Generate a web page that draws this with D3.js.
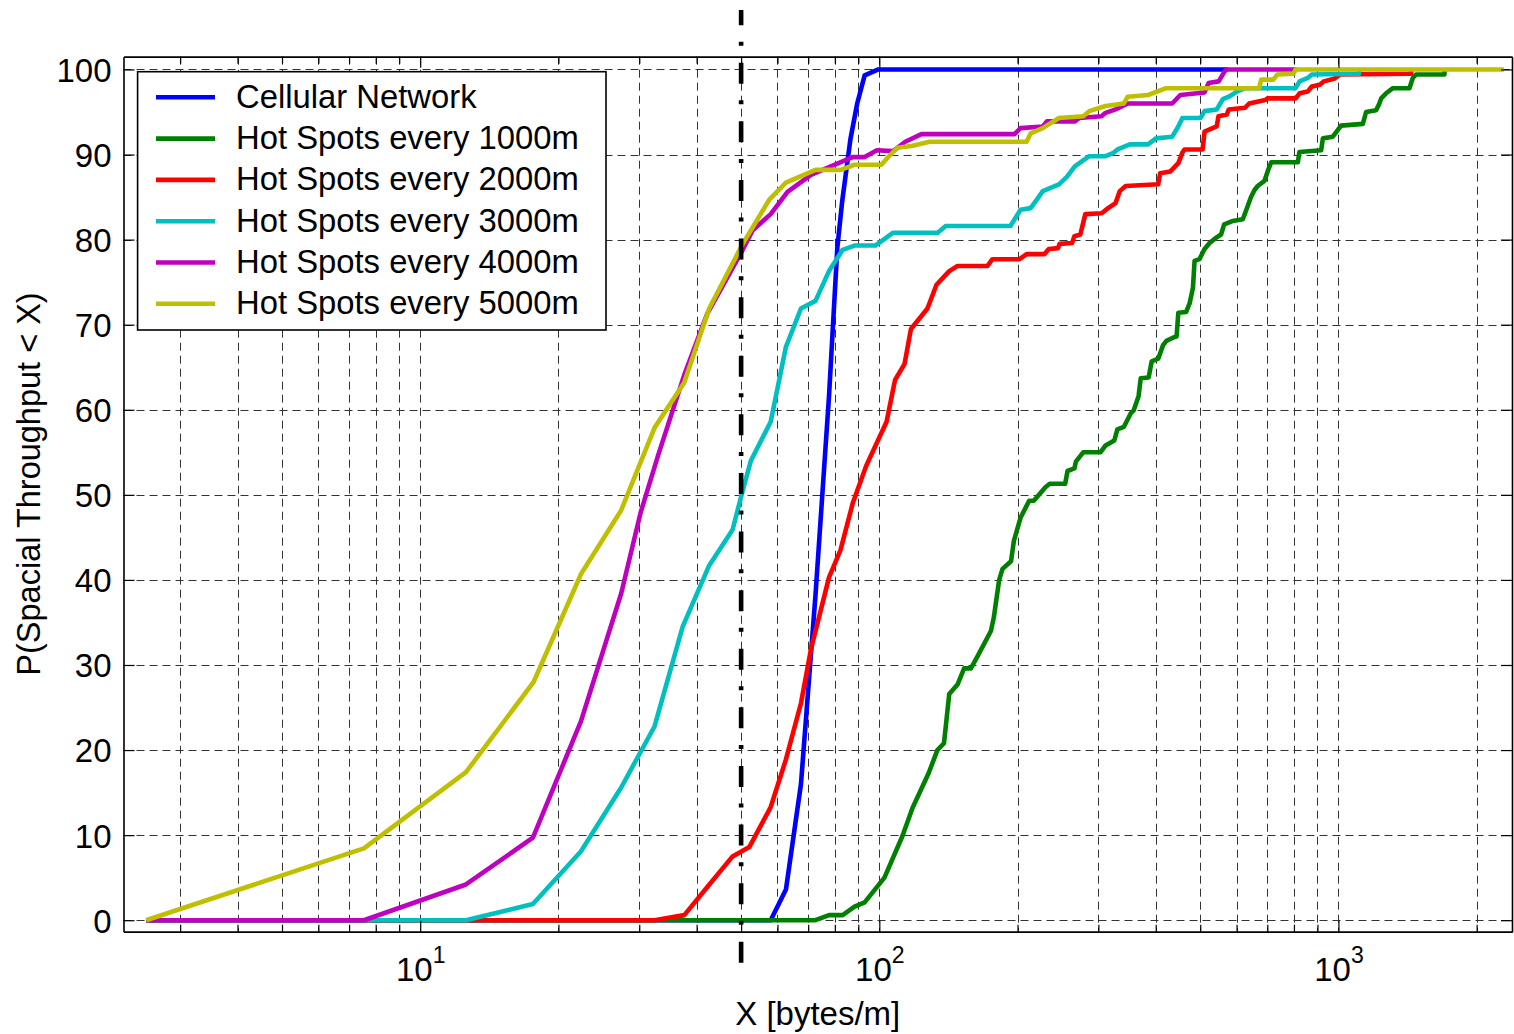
<!DOCTYPE html>
<html>
<head>
<meta charset="utf-8">
<script src="https://cdn.jsdelivr.net/npm/d3@7"></script>
<style>
  body { margin: 0; background: #fff; }
  svg { display: block; font-family: "Liberation Sans", Arial, Helvetica, sans-serif; }
</style>
</head>
<body>
<div id="chart"></div>
<script>
// Series data: [x (bytes/m), P(%)]
const cellular = [[2.53, 0], [58, 0], [62.6, 3.6], [67.5, 16], [72.6, 38.2], [77.7, 61.6], [81, 79],
    [83, 84.5], [86.5, 91.8], [89.5, 96], [92.9, 99.3], [99.5, 100], [575, 100]];

const hot1000 = [[2.53, 0], [72.6, 0], [77.7, 0.6], [83.2, 0.6], [88.3, 1.6], [92.9, 2.1], [102.6, 5.0],
    [112.3, 9.9], [118.1, 13.2], [128.1, 17.3], [133.8, 20.0], [138.3, 20.8], [142, 26.6], [148, 27.7],
    [153, 29.6], [158.3, 29.6], [163.6, 31.0], [175, 34.0], [177.6, 35.6], [182.4, 40.0], [185.5, 41.3],
    [193.6, 42.2], [196.4, 44.6], [203, 47.3], [212, 49.3], [217, 49.3], [230, 50.9], [235, 51.3],
    [254, 51.3], [257, 52.8], [266, 53.1], [268, 53.9], [278, 55.0], [303, 55.0], [311, 55.8],
    [325, 56.4], [330, 57.7], [341, 58.0], [353, 59.6], [358, 59.9], [367, 61.6], [371, 63.7],
    [386, 63.8], [392, 65.7], [405, 66.0], [415, 67.6], [422, 68.1], [437, 68.5], [444, 68.6],
    [448, 71.4], [466, 71.5], [474, 72.5], [482, 74.3], [486, 77.5], [498, 77.7], [511, 78.9],
    [524, 79.6], [541, 80.2], [555, 80.6], [564, 81.8], [589, 82.2], [619, 82.4], [629, 83.4],
    [645, 85.0], [656, 85.8], [667, 86.3], [690, 86.9], [702, 88.1], [714, 89.1], [816, 89.1],
    [822, 90.3], [917, 90.5], [925, 91.9], [972, 92.1], [988, 92.6], [1013, 93.4], [1130, 93.6],
    [1149, 95.0], [1208, 95.2], [1228, 96.0], [1239, 96.6], [1270, 97.2], [1314, 97.8], [1428, 97.8],
    [1452, 99.0], [1476, 99.4], [1702, 99.4], [1702, 100]];

const hot2000 = [[2.53, 0], [32.4, 0], [37.6, 0.6], [42.2, 3.9], [47.9, 7.5], [52.1, 8.6], [58.0, 13.3],
    [62.6, 18.9], [67.5, 25.5], [71.0, 31.9], [77.7, 40.3], [82.3, 43.5], [87.5, 49.0], [93.6, 53.4],
    [103.7, 58.6], [108.2, 63.5], [113.5, 65.4], [117.2, 69.5], [127.3, 71.9], [133.2, 74.7],
    [142, 76.3], [148, 76.9], [172, 76.9], [176.3, 77.7], [202, 77.7], [209.3, 78.3], [229, 78.3],
    [234, 78.9], [245, 79.0], [247, 79.5], [263, 79.6], [266, 80.4], [274, 80.6], [281, 83.0],
    [305, 83.1], [315, 83.7], [327, 84.3], [334, 85.7], [344, 86.3], [405, 86.5], [409, 87.8],
    [430, 88.0], [448, 89.0], [457, 90.2], [462, 90.6], [506, 90.6], [511, 92.7], [532, 93.1],
    [543, 93.3], [548, 94.5], [571, 94.7], [577, 95.3], [626, 95.5], [639, 96.0], [693, 96.4],
    [700, 96.6], [807, 96.6], [823, 97.2], [857, 97.4], [875, 98.0], [911, 98.2], [929, 98.6],
    [978, 98.9], [1008, 99.4], [1440, 99.5], [1440, 100]];

const hot3000 = [[2.53, 0], [12.58, 0], [17.6, 1.9], [22.4, 8.1], [27.4, 15.6], [32.4, 22.8], [37.3, 34.5],
    [42.6, 41.7], [47.9, 45.9], [50.4, 50.5], [52.5, 54.0], [58.0, 58.6], [62.6, 67.4], [67.5, 71.9],
    [72.6, 72.8], [77.7, 76.3], [83.2, 78.8], [88.3, 79.3], [98, 79.3], [107, 80.8], [134, 80.8],
    [139.5, 81.6], [193, 81.6], [203, 83.5], [213.6, 83.7], [220.3, 84.7], [227, 85.7], [246.2, 86.5],
    [256.4, 87.4], [266.5, 88.6], [286.6, 89.8], [311, 89.8], [323.7, 90.2], [330.3, 90.6],
    [351.2, 91.2], [384.8, 91.2], [400.5, 91.9], [434.5, 92.1], [447.9, 93.3], [457.2, 94.3],
    [501, 94.3], [510.9, 95.1], [543, 95.3], [560, 96.5], [577, 96.8], [601, 97.4], [626, 97.8],
    [806.6, 97.8], [823, 98.6], [857.5, 99.0], [874.8, 99.4], [1109, 99.5], [1109, 100]];

const hot4000 = [[2.53, 0], [7.54, 0], [12.58, 4.2], [17.6, 9.7], [22.4, 23.4], [27.4, 38.4], [30.2, 47.9],
    [33.0, 54.7], [37.6, 64.1], [42.2, 71.3], [50.4, 78.8], [53.0, 81.1], [58.0, 83.0], [63.1, 85.6],
    [71.0, 87.6], [78.4, 88.6], [87.5, 89.7], [92.9, 89.7], [98.8, 90.5], [107.2, 90.4], [113.9, 91.5],
    [123.5, 92.4], [197, 92.4], [203, 93.1], [227, 93.3], [231.7, 93.9], [267, 93.9], [272.4, 94.3],
    [304.7, 94.5], [311, 94.9], [327, 95.3], [347.7, 96.0], [434.5, 96.0], [452.4, 97.0],
    [510.9, 97.3], [521.3, 98.4], [548.5, 98.6], [565.5, 99.8], [571.3, 100], [810, 100]];

const hot5000 = [[2.53, 0], [7.54, 8.45], [12.58, 17.4], [17.66, 28.0], [22.4, 40.7], [27.4, 48.2],
    [32.4, 57.9], [37.6, 63.2], [42.6, 71.9], [50.4, 79.5], [57.6, 84.7], [62.6, 86.7], [72.6, 88.2],
    [82.4, 88.2], [88.2, 88.8], [101, 88.8], [105, 89.8], [109.4, 90.8], [117.4, 91.0], [128.7, 91.5],
    [209.4, 91.5], [213.6, 92.5], [227, 93.1], [246.2, 94.3], [278.1, 94.5], [286.6, 95.1],
    [311, 95.7], [340.6, 96.0], [347.7, 96.8], [384.8, 97.0], [421.5, 97.8], [672, 97.8],
    [678.7, 98.8], [721.4, 98.8], [736.5, 99.4], [798.6, 99.5], [806.6, 100], [2292, 100]];

const seriesData = [cellular, hot1000, hot2000, hot3000, hot4000, hot5000];
const seriesNames = ['Cellular Network', 'Hot Spots every 1000m', 'Hot Spots every 2000m',
    'Hot Spots every 3000m', 'Hot Spots every 4000m', 'Hot Spots every 5000m'];
const seriesColors = ['#0000ff', '#008000', '#ff0000', '#00bfbf', '#bf00bf', '#bfbf00'];

// vertical dash-dot marker at 50 bytes/m
const cutoffLine = [[50, -5], [50, 107]];

// ticks
const yTicks = [0, 10, 20, 30, 40, 50, 60, 70, 80, 90, 100];
const xMajor = [10, 100, 1000];
const xMajorExp = ['1', '2', '3'];
const xMinor = [3, 4, 5, 6, 7, 8, 9, 20, 30, 40, 50, 60, 70, 80, 90,
    200, 300, 400, 500, 600, 700, 800, 900, 2000];

const W = 1514, H = 1034;
const plotL = 123.5, plotR = 1512, plotT = 56.7, plotB = 931.7;

const svg = d3.select('#chart').append('svg')
    .attr('width', W).attr('height', H);

const x = d3.scaleLog().domain([2.258, 2388]).range([plotL, plotR]);
const y = d3.scaleLinear().domain([-1.35, 101.5]).range([plotB, plotT]);

// grid
const grid = svg.append('g')
    .attr('stroke', '#333').attr('stroke-width', 1).attr('stroke-dasharray', '8,5');
grid.selectAll('line.h').data(yTicks).enter().append('line')
    .attr('class', 'h')
    .attr('x1', plotL).attr('x2', plotR)
    .attr('y1', d => Math.round(y(d)) + 0.5).attr('y2', d => Math.round(y(d)) + 0.5);
grid.selectAll('line.v').data(xMajor.concat(xMinor)).enter().append('line')
    .attr('class', 'v')
    .attr('x1', d => Math.round(x(d)) + 0.5).attr('x2', d => Math.round(x(d)) + 0.5)
    .attr('y1', plotT).attr('y2', plotB);

// curves
const line = d3.line().x(d => x(d[0])).y(d => y(d[1]));
svg.append('g').selectAll('path').data(seriesData).enter().append('path')
    .attr('d', line)
    .attr('fill', 'none')
    .attr('stroke', (d, i) => seriesColors[i])
    .attr('stroke-width', 4.6)
    .attr('stroke-linejoin', 'round');

// dash-dot line, drawn from the bottom up
svg.append('path')
    .attr('d', line(cutoffLine))
    .attr('fill', 'none')
    .attr('stroke', '#000')
    .attr('stroke-width', 4.6)
    .attr('stroke-dasharray', '21,17,4,16.6');

// axes: ticks point inwards, on all four sides
function styleAxis(g) {
    g.selectAll('path.domain').attr('stroke', '#000').attr('stroke-width', 1.6);
    g.selectAll('.tick line').attr('stroke', '#000').attr('stroke-width', 1.2);
    g.selectAll('.tick text').attr('fill', '#000');
    g.attr('font-family', null);
}

svg.append('g').attr('transform', `translate(0,${plotB})`)
    .call(d3.axisBottom(x).tickValues(xMinor).tickSize(-7).tickSizeOuter(0).tickFormat(''))
    .call(styleAxis);
svg.append('g').attr('transform', `translate(0,${plotT})`)
    .call(d3.axisTop(x).tickValues(xMinor).tickSize(-7).tickSizeOuter(0).tickFormat(''))
    .call(styleAxis);
svg.append('g').attr('transform', `translate(0,${plotT})`)
    .call(d3.axisTop(x).tickValues(xMajor).tickSize(-11).tickSizeOuter(0).tickFormat(''))
    .call(styleAxis);

const xAxis = svg.append('g').attr('transform', `translate(0,${plotB})`)
    .call(d3.axisBottom(x).tickValues(xMajor).tickSize(-11).tickSizeOuter(0).tickFormat(() => '10'))
    .call(styleAxis);
xAxis.selectAll('.tick text')
    .attr('font-size', 33)
    .attr('y', 49).attr('dy', null)
    .append('tspan')
    .attr('font-size', 23)
    .attr('dy', -18)
    .text((d, i) => xMajorExp[i]);

svg.append('g').attr('transform', `translate(${plotL},0)`)
    .call(d3.axisLeft(y).tickValues(yTicks).tickSize(-11).tickSizeOuter(0).tickPadding(12))
    .call(styleAxis)
    .selectAll('.tick text')
    .attr('font-size', 33)
    .attr('dy', '0.36em');
svg.append('g').attr('transform', `translate(${plotR},0)`)
    .call(d3.axisRight(y).tickValues(yTicks).tickSize(-11).tickSizeOuter(0).tickFormat(''))
    .call(styleAxis);

// axis labels
svg.append('text')
    .attr('x', (plotL + plotR) / 2).attr('y', 1025)
    .attr('text-anchor', 'middle')
    .attr('font-size', 33)
    .text('X [bytes/m]');
svg.append('text')
    .attr('transform', 'translate(40,484) rotate(-90)')
    .attr('text-anchor', 'middle')
    .attr('font-size', 32.5)
    .text('P(Spacial Throughput < X)');

// legend
const legend = svg.append('g');
legend.append('rect')
    .attr('x', 137.6).attr('y', 71.7)
    .attr('width', 606 - 137.6).attr('height', 330 - 71.7)
    .attr('fill', '#fff').attr('stroke', '#000').attr('stroke-width', 1.6);
const rows = legend.selectAll('g.row').data(seriesNames).enter().append('g')
    .attr('class', 'row')
    .attr('transform', (d, i) => `translate(0,${97.3 + 41.3 * i})`);
rows.append('line')
    .attr('x1', 156).attr('x2', 215)
    .attr('stroke', (d, i) => seriesColors[i])
    .attr('stroke-width', 4.6);
rows.append('text')
    .attr('x', 236).attr('y', 10.5)
    .attr('font-size', 32.8)
    .text(d => d);
</script>
</body>
</html>
